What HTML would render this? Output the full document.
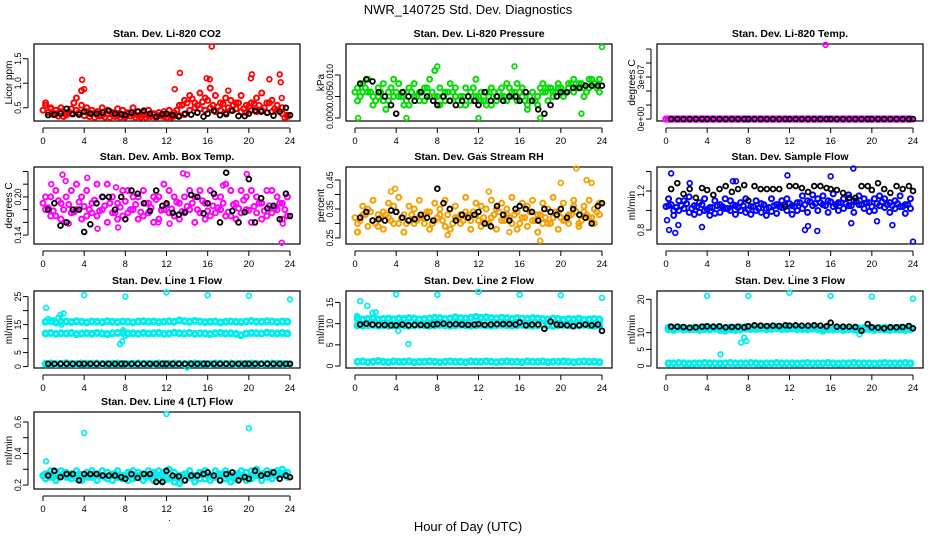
<!DOCTYPE html>
<html><head><meta charset="utf-8"><style>
html,body{margin:0;padding:0;background:#fff;}
svg{display:block;font-family:"Liberation Sans",Arial,sans-serif;}
</style></head><body>
<svg id="chart" width="936" height="540" viewBox="0 0 936 540" xmlns="http://www.w3.org/2000/svg">
<text x="468" y="14" text-anchor="middle" font-size="13">NWR_140725  Std. Dev. Diagnostics</text>
<text x="468" y="531" text-anchor="middle" font-size="13">Hour of Day (UTC)</text>
</svg>
<script>
const hC=[0.25,0.75,1.25,1.75,2.25,2.75,3.25,3.75,4.25,4.75,5.25,5.75,6.25,6.75,7.25,7.75,8.25,8.75,9.25,9.75,10.25,10.75,11.25,11.75,12.25,12.75,13.25,13.75,14.25,14.75,15.25,15.75,16.25,16.75,17.25,17.75,18.25,18.75,19.25,19.75,20.25,20.75,21.25,21.75,22.25,22.75,23.25,23.75];
const hC2=[0.0,0.5,1.0,1.5,2.0,2.5,3.0,3.5,4.0,4.5,5.0,5.5,6.0,6.5,7.0,7.5,8.0,8.5,9.0,9.5,10.0,10.5,11.0,11.5,12.0,12.5,13.0,13.5,14.0,14.5,15.0,15.5,16.0,16.5,17.0,17.5,18.0,18.5,19.0,19.5,20.0,20.5,21.0,21.5,22.0,22.5,23.0,23.5];
const hB=[0.5,1.1,1.7,2.3,2.9,3.5,4.0,4.6,5.2,5.8,6.4,7.0,7.6,8.0,8.6,9.2,9.8,10.4,11.0,11.6,12.0,12.6,13.2,13.8,14.4,15.0,15.6,16.0,16.6,17.2,17.8,18.4,19.0,19.6,20.0,20.6,21.2,21.8,22.4,23.0,23.6,24.0];
const xTicks=[0,4,8,12,16,20,24];

const co2A=[0.55,0.5,0.45,0.42,0.40,0.38,0.45,0.55,0.42,0.38,0.36,0.35,0.37,0.36,0.34,0.35,0.38,0.36,0.34,0.35,0.33,0.36,0.34,0.32,0.35,0.33,0.34,0.36,0.45,0.5,0.48,0.45,0.5,0.42,0.45,0.4,0.45,0.48,0.42,0.4,0.45,0.42,0.45,0.4,0.42,0.45,0.38,0.32];
const co2B=[0.6,0.48,0.38,0.5,0.35,0.48,0.7,0.85,0.5,0.45,0.42,0.5,0.45,0.4,0.48,0.45,0.4,0.5,0.42,0.4,0.45,0.38,0.4,0.42,0.45,0.4,0.55,0.65,0.75,0.6,0.8,0.7,0.9,0.75,0.6,0.7,0.65,0.6,0.75,0.55,0.6,0.7,0.8,0.6,0.65,0.55,0.5,0.35];
const co2C=[0.45,0.4,0.36,0.33,0.32,0.42,0.6,0.4,0.34,0.32,0.3,0.33,0.31,0.3,0.32,0.3,0.31,0.33,0.3,0.31,0.3,0.32,0.3,0.33,0.3,0.31,0.45,0.55,0.6,0.68,0.55,0.62,0.65,0.55,0.52,0.58,0.5,0.55,0.6,0.48,0.52,0.58,0.55,0.5,0.6,0.48,0.42,0.3];
const co2OutH=[3.8,4.0,13.3,12.8,15.9,16.2,16.4,18.0,20.2,20.3,22.0,23.0,23.1,23.2];
const co2OutV=[1.07,0.88,1.21,0.88,1.1,1.08,1.75,0.85,1.1,1.18,1.08,1.18,1.02,0.7];
const co2Blk=[0.35,0.36,0.38,0.48,0.37,0.36,0.42,0.38,0.38,0.4,0.44,0.38,0.37,0.35,0.4,0.42,0.44,0.38,0.32,0.37,0.38,0.35,0.32,0.38,0.36,0.4,0.32,0.38,0.44,0.35,0.37,0.44,0.33,0.33,0.38,0.44,0.42,0.4,0.34,0.42,0.5,0.35];

const presA=[0.007,0.008,0.006,0.005,0.007,0.004,0.006,0.005,0.008,0.003,0.007,0.005,0.006,0.004,0.009,0.005,0.003,0.006,0.004,0.007,0.005,0.003,0.006,0.005,0.004,0.006,0.003,0.005,0.007,0.004,0.006,0.008,0.005,0.003,0.004,0.005,0.006,0.007,0.005,0.008,0.006,0.007,0.009,0.008,0.007,0.009,0.008,0.009];
const presB=[0.004,0.006,0.009,0.003,0.005,0.008,0.004,0.009,0.005,0.006,0.003,0.008,0.004,0.007,0.005,0.011,0.007,0.004,0.008,0.005,0.003,0.007,0.004,0.009,0.006,0.003,0.007,0.004,0.005,0.008,0.005,0.004,0.007,0.002,0.006,0.003,0.008,0.004,0.006,0.007,0.005,0.008,0.006,0.007,0.005,0.007,0.008,0.006];
const presC=[0.006,0.005,0.007,0.006,0.004,0.006,0.002,0.007,0.006,0.005,0.004,0.006,0.005,0.006,0.007,0.006,0.005,0.005,0.006,0.006,0.004,0.005,0.005,0.007,0.005,0.004,0.005,0.006,0.006,0.005,0.007,0.006,0.006,0.004,0.005,0.004,0.007,0.006,0.007,0.006,0.007,0.006,0.008,0.007,0.008,0.006,0.009,0.007];
const presOutH=[8,15.5,24,0.3,5,12,18,22];
const presOutV=[0.012,0.012,0.0165,0.0,0.0,0.0,0.0,0.001];
const presBlk=[0.008,0.009,0.0085,0.006,0.005,0.003,0.001,0.006,0.005,0.004,0.006,0.005,0.004,0.003,0.005,0.004,0.003,0.004,0.005,0.004,0.003,0.006,0.004,0.005,0.004,0.005,0.005,0.004,0.006,0.004,0.002,0.001,0.003,0.005,0.006,0.006,0.007,0.007,0.0075,0.0075,0.0075,0.0075];

const tempA=[0,0,0,0,0,0,0,0,0,0,0,0,0,0,0,0,0,0,0,0,0,0,0,0,0,0,0,0,0,0,0,0,0,0,0,0,0,0,0,0,0,0,0,0,0,0,0,0];
const tempOutH=[15.5];
const tempOutV=[5.3e7];
const tempBlk=[0,0,0,0,0,0,0,0,0,0,0,0,0,0,0,0,0,0,0,0,0,0,0,0,0,0,0,0,0,0,0,0,0,0,0,0,0,0,0,0,0,0];

const ambA=[0.18,0.2,0.17,0.19,0.16,0.21,0.18,0.2,0.17,0.19,0.22,0.18,0.16,0.2,0.19,0.17,0.21,0.18,0.2,0.17,0.19,0.16,0.2,0.18,0.21,0.17,0.19,0.2,0.18,0.16,0.21,0.19,0.17,0.2,0.18,0.22,0.17,0.19,0.21,0.18,0.16,0.2,0.19,0.17,0.21,0.18,0.19,0.17];
const ambB=[0.2,0.17,0.21,0.165,0.2,0.175,0.22,0.165,0.21,0.175,0.17,0.2,0.22,0.175,0.165,0.21,0.175,0.2,0.165,0.21,0.175,0.2,0.165,0.22,0.175,0.2,0.165,0.175,0.21,0.2,0.175,0.165,0.21,0.175,0.2,0.17,0.21,0.165,0.175,0.2,0.21,0.175,0.165,0.21,0.175,0.2,0.165,0.2];
const ambC=[0.19,0.183,0.178,0.194,0.18,0.188,0.176,0.192,0.185,0.18,0.195,0.178,0.186,0.19,0.175,0.184,0.193,0.18,0.188,0.176,0.19,0.183,0.196,0.179,0.187,0.181,0.192,0.177,0.185,0.19,0.18,0.194,0.178,0.186,0.183,0.19,0.176,0.188,0.182,0.195,0.179,0.185,0.19,0.178,0.186,0.182,0.19,0.18];
const ambOutH=[0.8,1.9,2.5,2.2,4.3,5.3,7.1,7.3,14,13.6,17.5,19.8,23.2,23.3,11.2,12.3];
const ambOutV=[0.22,0.235,0.158,0.225,0.23,0.15,0.215,0.152,0.235,0.237,0.218,0.236,0.128,0.158,0.16,0.158];
const ambBlk=[0.18,0.19,0.155,0.16,0.18,0.18,0.145,0.157,0.19,0.2,0.2,0.18,0.2,0.165,0.21,0.205,0.19,0.178,0.21,0.186,0.19,0.175,0.172,0.176,0.203,0.2,0.174,0.19,0.205,0.16,0.238,0.178,0.16,0.176,0.228,0.16,0.198,0.182,0.186,0.165,0.205,0.17];

const rhA=[0.30,0.33,0.35,0.31,0.29,0.34,0.32,0.36,0.3,0.33,0.31,0.35,0.32,0.3,0.34,0.31,0.33,0.29,0.35,0.32,0.3,0.34,0.31,0.33,0.36,0.3,0.32,0.35,0.31,0.33,0.3,0.34,0.32,0.36,0.31,0.33,0.3,0.35,0.32,0.34,0.31,0.33,0.36,0.3,0.34,0.32,0.35,0.33];
const rhB=[0.27,0.36,0.29,0.38,0.33,0.28,0.37,0.3,0.39,0.27,0.36,0.3,0.38,0.33,0.28,0.37,0.35,0.38,0.28,0.36,0.33,0.39,0.28,0.37,0.29,0.35,0.38,0.28,0.37,0.35,0.39,0.28,0.37,0.29,0.38,0.27,0.37,0.3,0.39,0.28,0.37,0.3,0.38,0.29,0.36,0.38,0.3,0.37];
const rhC=[0.32,0.31,0.33,0.34,0.3,0.32,0.33,0.31,0.34,0.32,0.3,0.33,0.31,0.32,0.34,0.3,0.32,0.31,0.33,0.3,0.32,0.31,0.33,0.34,0.31,0.32,0.3,0.33,0.34,0.31,0.32,0.33,0.3,0.32,0.34,0.31,0.33,0.32,0.3,0.34,0.32,0.31,0.33,0.34,0.31,0.33,0.32,0.34];
const rhOutH=[0.2,3.5,3.9,13,20,21.5,22.5,23,18,9,15];
const rhOutV=[0.27,0.41,0.42,0.41,0.44,0.49,0.45,0.44,0.24,0.26,0.27];
const rhBlk=[0.32,0.34,0.31,0.315,0.31,0.345,0.34,0.32,0.31,0.315,0.33,0.32,0.31,0.42,0.37,0.35,0.31,0.33,0.32,0.33,0.34,0.3,0.29,0.36,0.33,0.31,0.35,0.36,0.35,0.34,0.31,0.35,0.34,0.33,0.35,0.32,0.35,0.33,0.32,0.3,0.36,0.37];

const sfA=[1.05,1.0,1.1,1.02,0.98,1.05,1.08,1.0,1.03,0.97,1.06,1.02,1.0,1.05,1.08,0.98,1.04,1.0,1.07,1.02,0.99,1.06,1.03,1.0,1.05,1.08,1.02,1.1,1.05,1.12,1.06,1.1,1.04,1.08,1.12,1.05,1.1,1.06,1.02,1.08,1.12,1.05,1.03,1.08,1.1,1.04,1.06,1.02];
const sfB=[1.12,0.95,1.0,1.1,1.14,0.96,0.98,1.12,0.95,1.1,0.98,1.12,1.1,0.96,1.0,1.12,0.96,1.1,0.98,0.95,1.12,0.97,1.1,1.12,0.96,1.0,1.15,0.98,1.16,1.0,1.15,0.98,1.17,1.0,1.02,1.16,0.98,1.15,1.12,0.99,1.0,1.15,1.12,0.98,1.02,1.15,0.97,1.12];
const sfC=[1.04,1.06,1.03,1.05,1.07,1.02,1.04,1.06,1.01,1.03,1.05,1.04,1.02,1.06,1.03,1.05,1.01,1.04,1.02,1.06,1.03,1.05,1.04,1.06,1.07,1.04,1.08,1.06,1.09,1.07,1.08,1.05,1.09,1.06,1.08,1.07,1.05,1.09,1.06,1.08,1.04,1.07,1.09,1.06,1.05,1.07,1.04,1.06];
const sfOutH=[0.1,0.3,0.5,0.9,1.2,2.3,3.5,6.5,6.8,11.8,13.5,13.8,14.7,18,18.2,20.5,22,24,16];
const sfOutV=[0.9,0.8,1.38,0.77,0.85,1.28,0.83,1.3,1.3,1.36,0.8,0.84,0.79,0.87,1.43,0.89,0.85,0.68,1.35];
const sfBlk=[1.22,1.28,1.17,1.22,1.13,1.23,1.21,1.16,1.22,1.25,1.19,1.22,1.26,1.1,1.25,1.22,1.22,1.22,1.22,1.04,1.25,1.25,1.23,1.19,1.25,1.25,1.23,1.22,1.21,1.18,1.13,1.13,1.25,1.25,1.21,1.28,1.22,1.18,1.25,1.22,1.25,1.2];

const l1U=[16,16.2,15.8,16,16.1,15.9,16.2,16,15.8,16.1,16,15.9,16.2,16,15.9,16.1,16,15.8,16.1,16.2,16,16.1,15.9,16,16.2,16,16.5,16.2,16,16.3,16.1,15.9,16,16.1,15.8,16,16.1,16,15.9,16.1,16.3,16,16,16.2,16.1,15.9,16.1,16];
const l1M=[11.8,12,11.7,11.9,11.8,12,11.6,11.8,11.9,11.7,12,11.8,11.6,11.9,12,12.1,11.8,11.9,11.7,12,11.8,11.9,12,11.7,11.8,12.1,11.9,11.8,12,11.7,11.9,11.8,11.6,11.9,12,11.8,11.9,11.7,11.2,11.8,12,11.9,11.8,12.1,11.9,11.8,12,11.8];
const l1L=[1,1.1,0.9,1,1.2,1,0.9,1.1,1,1,1.1,0.9,1,1,1.1,1,0.9,1,1.1,1,1,0.9,1.1,1,1,1.1,1,0.9,1,1.1,1,1,0.9,1.1,1,1,1.1,0.9,1,1,1.1,1,0.9,1,1.1,1,1,0.9];
const l1OutH=[0.3,4,8,12,16,20,24,0.5,1,1.5,1.7,2,1.8,7.5,7.7,7.8,8,14];
const l1OutV=[21,25.5,25,26.5,25.5,25.3,24,17,16.5,17.5,18.5,19,15,8,9,13,11,-0.3];
const l1Blk=[1,1,1,1,1,1,1,1,1,1,1,1,1,1,1,1,1,1,1,1,1,1,1,1,1,1,1,1,1,1,1,1,1,1,1,1,1,1,1,1,1,1];

const l2U=[11.2,11,11.1,11.3,11,11.1,11.2,11,11.2,11.1,11.3,11.2,11,11.1,11.2,11.4,11.3,11.1,11.2,11.5,11.3,11.2,11.4,11.6,11.4,11.5,11.3,11.2,11.4,11.3,11.1,11.3,11.2,11.1,11.3,11.2,11.1,11,11.2,11.1,10.9,11.1,11,11.2,10.9,11,11.1,11];
const l2M=[9.6,9.5,9.6,9.7,9.5,9.6,9.5,9.6,9.7,9.6,9.5,9.6,9.7,9.6,9.5,9.6,9.7,9.6,9.5,9.6,9.7,9.6,9.5,9.6,9.7,9.6,9.5,9.6,9.7,9.6,9.5,9.6,9.7,9.6,9.5,9.6,9.7,9.6,9.5,9.6,9.7,9.6,9.5,9.6,9.7,9.6,9.5,9.6];
const l2L=[1,1.1,0.9,1,1.2,1,0.9,1.1,1,1,1.1,0.9,1,1,1.1,1,0.9,1,1.1,1,1,0.9,1.1,1,1,1.1,1,0.9,1,1.1,1,1,0.9,1.1,1,1,1.1,0.9,1,1,1.1,1,0.9,1,1.1,1,1,0.9];
const l2OutH=[0.2,0.5,1.2,1.7,2,4,4.2,5.2,8,12,16,20,24];
const l2OutV=[11.8,15.3,14.2,12.5,12.7,16.9,8.3,5.2,16.8,17.5,16.8,16.7,16.1];
const l2Blk=[9.8,10,9.8,9.7,9.7,9.6,9.6,9.8,9.6,9.7,9.7,9.6,9.8,9.9,10,9.8,9.9,9.8,9.7,9.8,9.9,9.7,9.8,9.9,9.9,9.9,9.8,10.3,9.6,9.8,9.8,8.8,10.5,9.8,9.7,9.6,9.4,9.6,9.8,9.6,9.8,8.3];

const l3A=[11,10.8,11.2,10.9,11,11.1,10.8,11,10.9,11.2,10.8,10.6,11,10.8,11,11.2,11.1,11,11.2,11,11.1,11.3,11,11.1,11.2,11,11.1,11,11.2,11,10.6,11,10.9,11.1,10.8,11,10.9,10.7,11,11.1,10.8,11,10.9,10.8,11,10.9,10.8,11];
const l3B=[11.5,11.3,11.6,11.4,11.2,11.5,11.3,11.6,11.4,11.5,11.3,11.2,11.5,11.4,11.6,11.7,11.5,11.6,11.7,11.5,11.6,11.7,11.5,11.6,11.7,11.6,11.5,11.6,11.7,11.5,11.2,11.4,11.5,11.3,11.4,11.5,11.2,11.3,11.4,11.5,11.3,11.4,11.5,11.3,11.4,11.5,11.3,11.4];
const l3L=[0.8,0.8,0.9,0.8,0.7,0.8,0.8,0.9,0.8,0.8,0.7,0.8,0.9,0.8,0.8,0.8,0.9,0.8,0.7,0.8,0.8,0.9,0.8,0.8,0.8,0.7,0.8,0.9,0.8,0.8,0.8,0.9,0.8,0.7,0.8,0.8,0.9,0.8,0.8,0.8,0.7,0.8,0.9,0.8,0.8,0.8,0.9,0.8];
const l3OutH=[4,8,12,16,20,24,5.3,7.3,7.6,7.8,0.2,18.8];
const l3OutV=[21,21,22,21,20.8,20.2,3.5,7,8.5,7.5,11.5,9.5];
const l3Blk=[11.8,11.8,11.7,11.5,11.6,11.8,11.9,11.8,11.9,11.6,11.7,11.8,11.6,11.9,12.2,12.1,12,12.1,12,12.2,12.1,12.2,12.1,12.1,12.2,12.1,11.9,13,11.8,11.8,11.8,11.7,10.6,12.6,11.6,11.5,11.3,11.6,11.6,11.7,12,11.3];

const l4A=[0.27,0.25,0.28,0.26,0.25,0.27,0.24,0.26,0.28,0.25,0.27,0.26,0.24,0.27,0.25,0.26,0.28,0.24,0.26,0.27,0.25,0.23,0.26,0.28,0.24,0.22,0.26,0.27,0.25,0.26,0.28,0.24,0.26,0.25,0.27,0.24,0.26,0.27,0.25,0.28,0.24,0.26,0.27,0.25,0.28,0.26,0.27,0.28];
const l4B=[0.24,0.29,0.23,0.29,0.28,0.24,0.29,0.23,0.25,0.29,0.23,0.29,0.28,0.23,0.29,0.24,0.23,0.29,0.28,0.23,0.29,0.28,0.29,0.23,0.3,0.28,0.21,0.23,0.29,0.22,0.24,0.29,0.23,0.29,0.23,0.29,0.22,0.24,0.29,0.23,0.29,0.3,0.23,0.29,0.24,0.29,0.3,0.25];
const l4C=[0.26,0.27,0.25,0.26,0.27,0.25,0.26,0.27,0.26,0.25,0.27,0.26,0.25,0.26,0.27,0.25,0.26,0.27,0.25,0.26,0.25,0.26,0.27,0.26,0.25,0.24,0.25,0.26,0.27,0.25,0.26,0.27,0.26,0.25,0.27,0.26,0.25,0.26,0.27,0.26,0.25,0.27,0.26,0.27,0.26,0.27,0.28,0.27];
const l4OutH=[0.3,4,12,20];
const l4OutV=[0.35,0.53,0.65,0.56];
const l4Blk=[0.26,0.29,0.25,0.27,0.27,0.23,0.27,0.27,0.27,0.26,0.26,0.26,0.25,0.24,0.27,0.245,0.27,0.27,0.22,0.22,0.29,0.26,0.255,0.23,0.26,0.26,0.27,0.28,0.26,0.23,0.27,0.28,0.23,0.25,0.24,0.29,0.26,0.27,0.28,0.24,0.26,0.25];

const NS='http://www.w3.org/2000/svg';
const svg=document.getElementById('chart');
function mk(tag,attrs,parent){const e=document.createElementNS(NS,tag);for(const k in attrs)e.setAttribute(k,attrs[k]);(parent||svg).appendChild(e);return e;}

const panels=[
 {name:'co2',title:'Stan. Dev. Li-820 CO2',yl:'Licor ppm',col:0,row:0,ymin:0.23,ymax:1.8,ticks:[0.5,1.0,1.5],labs:['0.5','1.0','1.5'],c:'#ff0000',ser:[[co2A,hC],[co2B,hC],[co2C,hC2]],oh:co2OutH,ov:co2OutV,blk:co2Blk,sw:2},
 {name:'pressure',title:'Stan. Dev. Li-820 Pressure',yl:'kPa',col:1,row:0,ymin:-0.0007,ymax:0.0172,ticks:[0,0.005,0.01],labs:['0.000','0.005','0.010'],c:'#00dd00',ser:[[presA,hC],[presB,hC],[presC,hC2]],oh:presOutH,ov:presOutV,blk:presBlk,sw:2},
 {name:'temp',title:'Stan. Dev. Li-820 Temp.',yl:'degrees C',col:2,row:0,ymin:-1.4e6,ymax:5.36e7,ticks:[0,1e7,2e7,3e7,4e7,5e7],labs:['0e+00','','','3e+07','',''],c:'#ff00ff',ser:[[tempA,hC],[tempA,hC2]],oh:tempOutH,ov:tempOutV,blk:tempBlk,sw:2.4},
 {name:'amb-box-temp',title:'Stan. Dev. Amb. Box Temp.',yl:'degrees C',col:0,row:1,ymin:0.126,ymax:0.247,ticks:[0.14,0.16,0.18,0.20,0.22,0.24],labs:['0.14','','','0.20','',''],c:'#ff00ff',ser:[[ambA,hC],[ambB,hC],[ambC,hC2]],oh:ambOutH,ov:ambOutV,blk:ambBlk,sw:2},
 {name:'gas-rh',title:'Stan. Dev. Gas Stream RH',yl:'percent',col:1,row:1,ymin:0.229,ymax:0.495,ticks:[0.25,0.30,0.35,0.40,0.45],labs:['0.25','','0.35','','0.45'],c:'#f5a000',ser:[[rhA,hC],[rhB,hC],[rhC,hC2]],oh:rhOutH,ov:rhOutV,blk:rhBlk,sw:2},
 {name:'sample-flow',title:'Stan. Dev. Sample Flow',yl:'ml/min',col:2,row:1,ymin:0.656,ymax:1.446,ticks:[0.8,1.0,1.2,1.4],labs:['0.8','','1.2',''],c:'#0000ff',ser:[[sfA,hC],[sfB,hC],[sfC,hC2]],oh:sfOutH,ov:sfOutV,blk:sfBlk,sw:2},
 {name:'line1-flow',title:'Stan. Dev. Line 1 Flow',yl:'ml/min',col:0,row:2,ymin:-0.5,ymax:27,ticks:[0,5,10,15,20,25],labs:['0','5','','15','','25'],c:'#00eeee',ser:[[l1U,hC],[l1M,hC],[l1L,hC]],oh:l1OutH,ov:l1OutV,blk:l1Blk,sw:3},
 {name:'line2-flow',title:'Stan. Dev. Line 2 Flow',yl:'ml/min',col:1,row:2,ymin:-0.46,ymax:17.7,ticks:[0,5,10,15],labs:['0','5','10','15'],c:'#00eeee',ser:[[l2U,hC],[l2M,hC],[l2L,hC]],oh:l2OutH,ov:l2OutV,blk:l2Blk,sw:3},
 {name:'line3-flow',title:'Stan. Dev. Line 3 Flow',yl:'ml/min',col:2,row:2,ymin:-0.6,ymax:22.5,ticks:[0,5,10,20],labs:['0','5','10','20'],c:'#00eeee',ser:[[l3A,hC],[l3B,hC],[l3L,hC]],oh:l3OutH,ov:l3OutV,blk:l3Blk,sw:3},
 {name:'line4-flow',title:'Stan. Dev. Line 4 (LT) Flow',yl:'ml/min',col:0,row:3,ymin:0.175,ymax:0.663,ticks:[0.2,0.3,0.4,0.5,0.6],labs:['0.2','','0.4','','0.6'],c:'#00eeee',ser:[[l4A,hC],[l4B,hC],[l4C,hC2]],oh:l4OutH,ov:l4OutV,blk:l4Blk,sw:2.4}
];
const lefts=[34,346,657], tops=[44,167,291,412], W=266, H=77;

panels.forEach(p=>{
 const L=lefts[p.col], T=tops[p.row], B=T+H;
 const xs=h=>L+9+h*(247/24);
 const ys=v=>B-(v-p.ymin)/(p.ymax-p.ymin)*H;
 const g=mk('g',{});
 
 
 const t=mk('text',{x:L+W/2,y:T-7,'text-anchor':'middle','font-size':'10.5','font-weight':'bold'},g);
 t.textContent=p.title;
 
 
 const yl=mk('text',{transform:`translate(${L-22},${T+H/2}) rotate(-90)`,'text-anchor':'middle','font-size':'10'},g);
 yl.textContent=p.yl;
 
 
 const xa=mk('g',{},g);
 
 
 mk('line',{x1:xs(0),x2:xs(24),y1:B+7,y2:B+7,stroke:'#000'},xa);
 xTicks.forEach(h=>{
  mk('line',{x1:xs(h),x2:xs(h),y1:B+7,y2:B+12,stroke:'#000'},xa);
  const tl=mk('text',{x:xs(h),y:B+23,'text-anchor':'middle','font-size':'9.5'},xa);
  tl.textContent=h;
  
  
 });
 const dot=mk('text',{x:xs(12)+3,y:B+32,'text-anchor':'middle','font-size':'9'},xa);
 dot.textContent='.';
 const ya=mk('g',{},g);
 
 
 mk('line',{x1:L-6,x2:L-6,y1:ys(p.ticks[0]),y2:ys(p.ticks[p.ticks.length-1]),stroke:'#000'},ya);
 p.ticks.forEach((v,i)=>{
  mk('line',{x1:L-11,x2:L-6,y1:ys(v),y2:ys(v),stroke:'#000'},ya);
  if(p.labs[i]){
   const tl=mk('text',{transform:`translate(${L-13},${ys(v)}) rotate(-90)`,'text-anchor':'middle','font-size':'8.8'},ya);
   tl.textContent=p.labs[i];
   
   
  }
 });
 mk('rect',{x:L,y:T,width:W,height:H,fill:'none',stroke:'#000','stroke-width':'1.2'},g);
 const ds=mk('g',{},g);
 
 
 p.ser.forEach(s=>{
  const arr=s[0], hh=s[1];
  const n=Math.min(arr.length,hh.length);
  for(let i=0;i<n;i++){
   const c=mk('circle',{cx:xs(hh[i]),cy:ys(arr[i]),r:2.5,fill:'none',stroke:p.c,'stroke-width':p.sw},ds);
   
   
  }
 });
 for(let i=0;i<Math.min(p.oh.length,p.ov.length);i++){
  const c=mk('circle',{cx:xs(p.oh[i]),cy:ys(p.ov[i]),r:2.4,fill:'none',stroke:p.c,'stroke-width':'1.7'},ds);
  
  
 }
 const bs=mk('g',{},g);
 
 
 for(let i=0;i<Math.min(p.blk.length,hB.length);i++){
  const c=mk('circle',{cx:xs(hB[i]),cy:ys(p.blk[i]),r:2.4,fill:'none',stroke:'#000','stroke-width':'1.8'},bs);
  
  
 }
});
</script>
</body></html>
